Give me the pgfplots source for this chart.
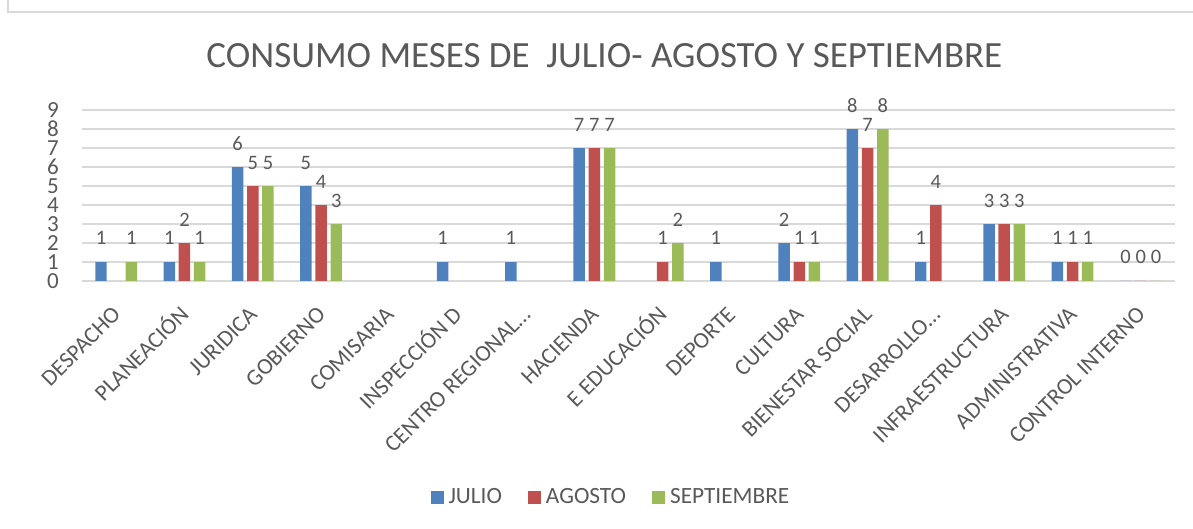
\documentclass[border=0pt]{standalone}
\usepackage{fontspec}
\setmainfont{Carlito}
\usepackage{pgfplots}
\pgfplotsset{compat=1.18}
\definecolor{cblue}{HTML}{4F81BD}
\definecolor{cred}{HTML}{C0504D}
\definecolor{cgreen}{HTML}{9BBB59}
\definecolor{txt}{HTML}{595959}
\definecolor{gridc}{HTML}{D9D9D9}
\begin{document}
\begin{tikzpicture}[x=1pt,y=1pt]
\path[use as bounding box] (-82,-248) rectangle (1111,281);
\draw[gridc, line width=1.2pt] (-74,400) |- (1130,269);
\begin{axis}[
  at={(0,0)}, anchor=south west,
  scale only axis, width=1093pt, height=171pt,
  xmin=-0.5, xmax=15.5, ymin=0, ymax=9,
  ybar, bar width=0.168,
  /pgf/number format/assume math mode=true,
  axis line style={draw=none},
  major tick style={draw=none},
  ymajorgrids, grid style={gridc, line width=1.3pt},
  ytick={0,...,9},
  yticklabel style={font=\fontsize{23}{23}\selectfont, text=txt, inner sep=0pt, xshift=-23pt, anchor=east},
  xtick={0,...,15},
  xticklabels={DESPACHO,PLANEACIÓN,JURIDICA,GOBIERNO,COMISARIA,INSPECCIÓN D,CENTRO REGIONAL…,HACIENDA,E EDUCACIÓN,DEPORTE,CULTURA,BIENESTAR SOCIAL,DESARROLLO…,INFRAESTRUCTURA,ADMINISTRATIVA,CONTROL INTERNO},
  xticklabel style={font=\fontsize{23}{23}\selectfont, text=txt, inner sep=0pt, text height=0.64em, text depth=0pt, xshift=1pt, yshift=-26pt, rotate=45, anchor=north east},
  nodes near coords,
  every node near coord/.append style={font=\fontsize{20.5}{20.5}\selectfont, text=txt, anchor=base, inner sep=0pt, yshift=17pt},
  title={CONSUMO MESES DE\ \ JULIO- AGOSTO Y SEPTIEMBRE},
  title style={font=\fontsize{37}{37}\selectfont, text=txt, at={(0.478,1)}, anchor=base, inner sep=0pt, yshift=37pt},
  legend style={at={(0.483,-1.263)}, anchor=center, draw=none, legend columns=-1,
    font=\fontsize{23.3}{23.3}\selectfont, text=txt,
    nodes={inner sep=0pt},
    /tikz/every odd column/.append style={column sep=5pt},
    /tikz/every even column/.append style={column sep=26pt}},
  legend image code/.code={\fill[#1,draw=none] (0pt,-7pt) rectangle (13pt,6pt);},
]
\addplot[fill=cblue, draw=none, bar shift=-0.222] coordinates {(0,1) (1,1) (2,6) (3,5) (5,1) (6,1) (7,7) (9,1) (10,2) (11,8) (12,1) (13,3) (14,1) (15,0)};
\addplot[fill=cred, draw=none, bar shift=0] coordinates {(1,2) (2,5) (3,4) (7,7) (8,1) (10,1) (11,7) (12,4) (13,3) (14,1) (15,0)};
\addplot[fill=cgreen, draw=none, bar shift=0.222] coordinates {(0,1) (1,1) (2,5) (3,3) (7,7) (8,2) (10,1) (11,8) (13,3) (14,1) (15,0)};
\legend{JULIO,AGOSTO,SEPTIEMBRE}
\end{axis}
\end{tikzpicture}
\end{document}
